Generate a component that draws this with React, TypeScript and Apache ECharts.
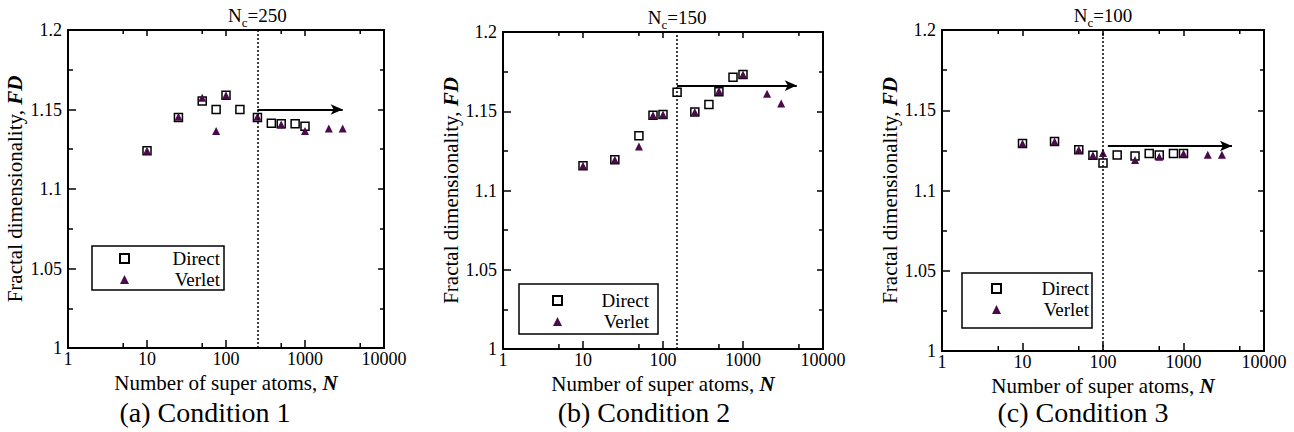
import React, { useEffect, useRef } from "react";
import * as echarts from "echarts";

// ---------- data ----------
const captions = ["(a) Condition 1", "(b) Condition 2", "(c) Condition 3"];
const criticalN = [250, 150, 100];
const directN = [10, 25, 50, 75, 100, 150, 250, 375, 500, 750, 1000];
const verletN = [10, 25, 50, 75, 100, 250, 500, 1000, 2000, 3000];

const directA = [1.124, 1.145, 1.1553, 1.150, 1.159, 1.150, 1.145, 1.1413, 1.141, 1.141, 1.1395];
const verletA = [1.124, 1.1455, 1.1574, 1.1365, 1.159, 1.1455, 1.1405, 1.1365, 1.138, 1.138];

const directB = [1.1156, 1.1194, 1.1346, 1.1475, 1.148, 1.162, 1.1496, 1.1542, 1.1623, 1.1715, 1.1732];
const verletB = [1.1156, 1.1194, 1.1278, 1.1475, 1.148, 1.1496, 1.1627, 1.1732, 1.161, 1.1549];

const directC = [1.1293, 1.1306, 1.1254, 1.1219, 1.1171, 1.1221, 1.1215, 1.1231, 1.1221, 1.1231, 1.1231];
const verletC = [1.1293, 1.1306, 1.1254, 1.1219, 1.1233, 1.119, 1.121, 1.1231, 1.1223, 1.1223];

const directY = [directA, directB, directC];
const verletY = [verletA, verletB, verletC];

const arrowLevel = [1.15, 1.1662, 1.1277];
const arrowStart = [250, 150, 115];
const arrowEnd = [3000, 4700, 4000];

const minorXTicks = [5, 50, 500, 5000];
const yTicks = ["1", "1.05", "1.1", "1.15", "1.2"];

// ---------- layout ----------
const FONT = "Liberation Serif";
const grids = [
  { left: 68, top: 30, width: 316, height: 318 },
  { left: 503, top: 32, width: 320, height: 317 },
  { left: 942, top: 30, width: 322, height: 321 },
];
const yNameGap = [43, 40, 40];
const xNameGap = [20, 20, 17];
const legendBoxes = [
  { left: 92, top: 246, padding: [3, 4, 1, 27], w: 86 },
  { left: 519, top: 284, padding: [7, 9, 3, 33], w: 82 },
  { left: 962, top: 273, padding: [6, 3, 9, 29], w: 83 },
];
const captionX = [205, 644, 1083];

export default function App() {
  const ref = useRef<HTMLDivElement>(null);

  useEffect(() => {
    if (!ref.current) return;
    const chart = echarts.init(ref.current, undefined, { renderer: "svg" });

    const xAxis: any[] = [];
    const yAxis: any[] = [];
    const series: any[] = [];
    const legend: any[] = [];

    grids.forEach((g, i) => {
      const commonX = {
        type: "log",
        logBase: 10,
        min: 1,
        max: 10000,
        gridIndex: i,
        splitLine: { show: false },
        axisLine: { show: true, onZero: false, lineStyle: { color: "#000", width: 2 } },
      };
      xAxis.push({
        ...commonX,
        position: "bottom",
        axisTick: { show: true, inside: true, length: 8, lineStyle: { color: "#000", width: 1.5 } },
        axisLabel: {
          color: "#000",
          fontSize: 18,
          fontFamily: FONT,
          margin: 2,
          formatter: (v: number) => String(Math.round(v)),
        },
        name: "{n|Number of super atoms, }{b|N}",
        nameLocation: "middle",
        nameGap: xNameGap[i],
        nameTextStyle: {
          rich: {
            n: { fontSize: 21, fontFamily: FONT, color: "#000" },
            b: { fontSize: 21, fontFamily: FONT, color: "#000", fontWeight: "bold", fontStyle: "italic" },
          },
        },
      });
      xAxis.push({
        ...commonX,
        position: "top",
        axisTick: { show: true, inside: true, length: 6, lineStyle: { color: "#000", width: 1.5 } },
        axisLabel: { show: false },
      });
      const commonY = {
        type: "value",
        min: 1,
        max: 1.2,
        interval: 0.05,
        gridIndex: i,
        splitLine: { show: false },
        minorSplitLine: { show: false },
        axisLine: { show: true, onZero: false, lineStyle: { color: "#000", width: 2 } },
      };
      yAxis.push({
        ...commonY,
        position: "left",
        axisTick: { show: true, inside: true, length: 8, lineStyle: { color: "#000", width: 1.5 } },
        minorTick: { show: true, splitNumber: 2, length: 5, lineStyle: { color: "#000", width: 1.5 } },
        axisLabel: {
          color: "#000",
          fontSize: 18,
          fontFamily: FONT,
          margin: 6,
          formatter: (v: number) => yTicks[Math.round((v - 1) / 0.05)] ?? String(v),
        },
        name: "{n|Fractal dimensionality, }{b|FD}",
        nameLocation: "middle",
        nameGap: yNameGap[i],
        nameTextStyle: {
          rich: {
            n: { fontSize: 21, fontFamily: FONT, color: "#000" },
            b: { fontSize: 21, fontFamily: FONT, color: "#000", fontWeight: "bold", fontStyle: "italic" },
          },
        },
      });
      yAxis.push({
        ...commonY,
        position: "right",
        axisTick: { show: true, inside: true, length: 6, lineStyle: { color: "#000", width: 1.5 } },
        minorTick: { show: true, splitNumber: 2, length: 4, lineStyle: { color: "#000", width: 1.5 } },
        axisLabel: { show: false },
      });

      const xi = i * 2;
      const yi = i * 2;

      series.push({
        type: "scatter",
        name: "Direct",
        xAxisIndex: xi,
        yAxisIndex: yi,
        symbol: "rect",
        symbolSize: 8,
        clip: false,
        z: 3,
        itemStyle: { color: "#fff", borderColor: "#000", borderWidth: 1.5, opacity: 1 },
        data: directN.map((n, k) => [n, directY[i][k]]),
        markLine: {
          silent: true,
          symbol: "none",
          animation: false,
          lineStyle: { color: "#000", width: 1.5, type: [2, 2] },
          label: {
            show: true,
            position: "end",
            distance: 2,
            formatter: `{n|N}{s|c}{n|=${criticalN[i]}}`,
            rich: {
              n: { fontSize: 19, fontFamily: FONT, color: "#000", lineHeight: 22, verticalAlign: "top" },
              s: { fontSize: 13, fontFamily: FONT, color: "#000", lineHeight: 14, verticalAlign: "top", padding: [10, 0, 0, 0] },
            },
          },
          data: [[{ coord: [criticalN[i], 1] }, { coord: [criticalN[i], 1.2] }]],
        },
      });
      series.push({
        type: "scatter",
        name: "Verlet",
        xAxisIndex: xi,
        yAxisIndex: yi,
        symbol: "triangle",
        symbolSize: 8,
        clip: false,
        z: 4,
        itemStyle: { color: "#4B0A4B", opacity: 1 },
        data: verletN.map((n, k) => [n, verletY[i][k]]),
        markLine: {
          silent: true,
          animation: false,
          symbol: ["none", "arrow"],
          lineStyle: { color: "#000", width: 2, type: "solid" },
          label: { show: false },
          data: [
            [
              { coord: [arrowStart[i], arrowLevel[i]], symbol: "none" },
              { coord: [arrowEnd[i], arrowLevel[i]], symbol: "arrow", symbolSize: [8, 12] },
            ],
          ],
        },
      });
      // minor log ticks (5, 50, 500, 5000) on bottom and top edges
      series.push({
        type: "scatter",
        name: "minorBottom",
        xAxisIndex: xi,
        yAxisIndex: yi,
        symbol: "rect",
        symbolSize: [1.5, 5],
        symbolOffset: [0, -2.5],
        clip: false,
        silent: true,
        itemStyle: { color: "#000", opacity: 1 },
        data: minorXTicks.map((t) => [t, 1]),
      });
      series.push({
        type: "scatter",
        name: "minorTop",
        xAxisIndex: xi,
        yAxisIndex: yi,
        symbol: "rect",
        symbolSize: [1.5, 4],
        symbolOffset: [0, 2],
        clip: false,
        silent: true,
        itemStyle: { color: "#000", opacity: 1 },
        data: minorXTicks.map((t) => [t, 1.2]),
      });

      const lb = legendBoxes[i];
      legend.push({
        orient: "vertical",
        left: lb.left,
        top: lb.top,
        padding: lb.padding,
        itemGap: 2,
        itemWidth: 9,
        itemHeight: 9,
        borderColor: "#000",
        borderWidth: 1.5,
        backgroundColor: "#fff",
        selectedMode: false,
        data: ["Direct", "Verlet"],
        formatter: (name: string) => `{t|${name}}`,
        textStyle: {
          rich: {
            t: { width: lb.w, align: "right", fontSize: 19, fontFamily: FONT, color: "#000", lineHeight: 20 },
          },
        },
      });
    });

    const option: any = {
      animation: false,
      backgroundColor: "#fff",
      textStyle: { fontFamily: FONT },
      grid: grids.map((g) => ({ ...g, containLabel: false, outerBoundsMode: "none" })),
      xAxis,
      yAxis,
      series,
      legend,
      title: captions.map((c, i) => ({
        text: c,
        left: captionX[i],
        top: 398,
        textAlign: "center",
        padding: 0,
        textStyle: {
          fontSize: 28,
          fontFamily: FONT,
          fontWeight: "normal",
          color: "#000",
        },
      })),
    };
    chart.setOption(option);
    return () => chart.dispose();
  }, []);

  return (
    <div
      ref={ref}
      style={{ position: "absolute", left: 0, top: 0, width: 1294, height: 432, background: "#fff" }}
    />
  );
}
